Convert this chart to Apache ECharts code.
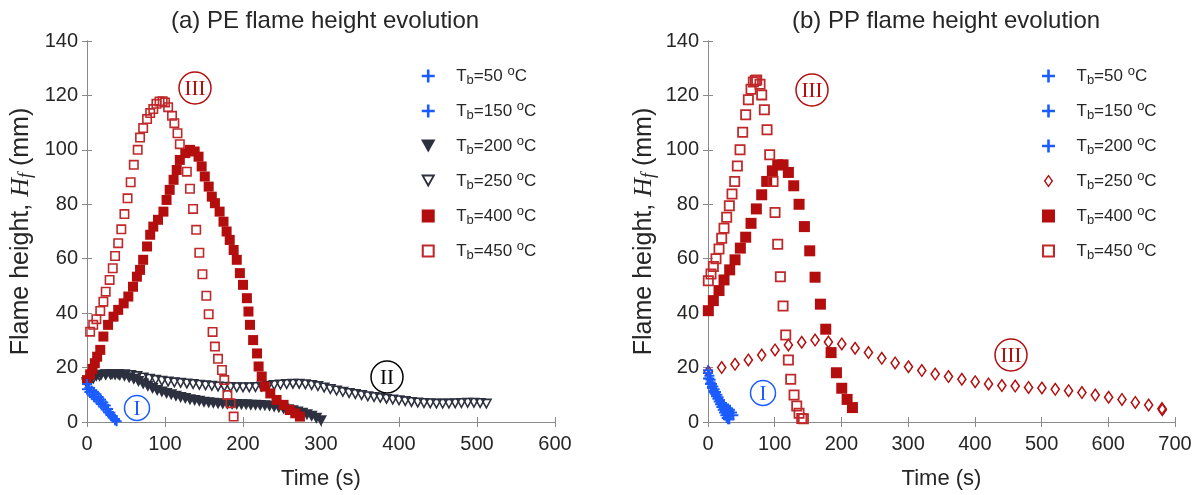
<!DOCTYPE html>
<html>
<head>
<meta charset="utf-8">
<script src="https://cdn.jsdelivr.net/npm/echarts@6/dist/echarts.min.js"></script>
<style>
  html, body { margin: 0; padding: 0; background: #fff; }
  #chart { width: 1201px; height: 495px; }
</style>
</head>
<body>
<div id="chart"></div>
<script>
// ---- data: [time (s), flame height (mm)] ----

// (a) PE
const pe50 = [[0,12],[3,11],[6,10],[9,9.2],[12,8.4],[15,7.5],[18,6.6],[21,5.6],[24,4.6],[27,3.6],[30,2.6],[33,1.6],[36,0.6]];
const pe150 = [[0,14],[3,12.6],[6,11.6],[9,11],[12,10.2],[15,9.2],[18,8.2],[21,7.2],[24,6.1],[27,4.8],[30,3.4],[33,2.2],[36,1.1],[38,0.3]];
const pe200 = [[0,14.5],[6,16],[12,16.8],[18,17.2],[24,17.4],[30,17.4],[36,17.3],[42,17.1],[48,16.8],[54,16.3],[60,15.7],[66,14.9],[72,14],[78,13.1],[84,12.3],[90,11.6],[96,11],[102,10.5],[108,10],[114,9.5],[120,9],[126,8.6],[132,8.2],[138,7.9],[144,7.6],[150,7.3],[156,7.1],[162,6.9],[168,6.7],[174,6.6],[180,6.5],[186,6.4],[192,6.4],[198,6.3],[204,6.3],[210,6.2],[216,6.2],[222,6.1],[228,6],[234,5.8],[240,5.5],[246,5.2],[252,4.8],[258,4.5],[264,4.1],[270,3.7],[276,3.2],[282,2.7],[288,2.1],[294,1.4],[300,0.5]];
const pe250 = [[0,14],[8,15.8],[16,16.8],[24,17.3],[32,17.5],[40,17.5],[48,17.4],[56,17.1],[64,16.7],[72,16.2],[80,15.7],[88,15.3],[96,15],[104,14.7],[112,14.4],[120,14.2],[128,14],[136,13.8],[144,13.5],[152,13.3],[160,13.1],[168,12.9],[176,12.8],[184,12.7],[192,12.6],[200,12.6],[208,12.6],[216,12.7],[224,12.9],[232,13.1],[240,13.4],[248,13.6],[256,13.8],[264,13.9],[272,13.9],[280,13.7],[288,13.4],[296,13],[304,12.5],[312,11.9],[320,11.4],[328,10.9],[336,10.5],[344,10.1],[352,9.7],[360,9.3],[368,9],[376,8.7],[384,8.4],[392,8.1],[400,7.8],[408,7.5],[416,7.2],[424,7],[432,6.8],[440,6.7],[448,6.6],[456,6.6],[464,6.6],[472,6.7],[480,6.8],[488,6.9],[496,6.9],[504,6.8],[512,6.6]];
const pe400 = [[0,15.4],[4,17.5],[7,19.5],[10,21.6],[13,24],[17,26.5],[21,31.4],[27,35.7],[34,38.7],[40,41.2],[47,43.6],[53,46.1],[59,49.7],[64,53.4],[68,55.9],[72,59.6],[77,64.5],[81,68.8],[85,71.8],[91,74.3],[98,77.3],[102,81.6],[106,85.3],[111,89],[115,92.6],[119,96.3],[126,98.8],[132,100],[138,99.4],[143,97.5],[147,93.9],[151,90.2],[156,86.5],[160,82.8],[164,80.4],[170,77.3],[175,73.6],[179,70],[183,66.9],[188,63.2],[192,59.6],[196,54.7],[200,50.4],[205,45.5],[207,40.6],[209,35.7],[213,30.1],[218,25.2],[220,20.4],[224,16.7],[228,13],[235,10.5],[243,8.1],[252,6.3],[260,4.4],[267,3.2],[273,2]];
const pe450 = [[4,33.2],[8,35.7],[12,37.8],[17,40.8],[21,44.2],[24,47.9],[29,52.2],[33,56.5],[36,61],[40,65.7],[44,70.8],[48,76.4],[52,82.2],[56,88.1],[60,94.5],[65,100],[68,104.5],[72,108],[77,111.3],[81,113.5],[85,115],[89,116.9],[93,117.8],[97,117.9],[100,117.4],[104,115.7],[109,112.5],[112,109.8],[116,106.1],[119,102.1],[128,92],[132,85.7],[136,78.3],[140,70.6],[144,62.2],[148,54.3],[153,46.4],[156,39.6],[161,33.1],[164,27.7],[168,23.2],[173,19.1],[176,15.4],[180,9.9],[184,6.9],[188,2]];

// (b) PP
const pp50 = [[0,18],[2,16],[4,14.5],[6,13],[8,11.5],[10,10.5],[12,9.5],[14,8.5],[16,7.5],[18,6.5],[20,5.5],[22,4.5],[24,3.5],[26,2.5],[28,1.5],[30,1]];
const pp150 = [[0,19],[2,17],[4,15.5],[6,14],[8,13],[10,12],[12,11],[14,10],[16,9],[18,8],[20,7],[22,6],[24,5],[26,4],[28,3],[30,2],[32,1]];
const pp200 = [[0,16],[3,14],[6,12.5],[9,11],[12,10],[15,9],[18,8],[21,7],[24,6],[27,5.5],[30,5],[33,4.5],[36,3.5],[38,2.5]];
const pp250 = [[0.5,18.5],[20.5,20],[40.5,21.2],[60.5,22.8],[80.5,24.6],[100.5,26.5],[120.5,28.3],[140.5,29.3],[160.5,30.1],[180.5,29.4],[200.5,28.7],[220.5,27.1],[240.5,25.5],[260.5,23.4],[280.5,21.7],[300.5,20.3],[320.5,18.9],[340.5,17.6],[360.5,16.7],[380.5,15.7],[400.5,14.8],[420.5,14],[440.5,13.4],[460.5,13.2],[480.5,12.7],[500.5,12.5],[520.5,12],[540.5,11.5],[560.5,10.8],[580.5,9.9],[600.5,9.1],[620.5,8.3],[640.5,7.2],[660.5,6.25],[680.5,5],[681,4.5]];
const pp400 = [[0.5,40.9],[8,44.6],[16.5,48.3],[24,52.2],[32.5,55.9],[40.5,59.6],[48.5,63.9],[56.5,67.9],[64.5,73],[72.5,78.3],[80.5,83.5],[88,88.4],[96.5,92.3],[104.5,94.5],[112.5,94.5],[120.5,91.7],[128.5,86.8],[136.5,80],[144.5,71.8],[152.5,62.9],[160.5,53.2],[168.5,43.3],[176.5,34.1],[184.5,25.5],[192.5,18.1],[200.5,12.4],[208.5,8.3],[216.5,5.3]];
const pp450 = [[0.5,51.9],[4.5,54.4],[8,57.1],[12,60],[16.5,63.6],[20.5,67.5],[24,71.2],[28,75.2],[32,79.5],[36,83.8],[40,88.4],[44,94.1],[48,100],[52,106.5],[56.5,112.9],[60.5,118.4],[64.5,122.3],[68,124.9],[71,125.5],[73,125.7],[78,124.1],[80.5,120.2],[84.5,114.7],[88.5,107.4],[92.5,98.2],[97.5,88.4],[100.5,77],[104.5,65.3],[108.5,53.4],[112.5,42.6],[116.5,32],[120.5,22.8],[124,15.7],[129,9.9],[133,5.9],[136.5,3.2],[140.5,1.3],[143,1.2]];

const xTicksA = { min: 0, max: 600, interval: 100 };
const xTicksB = { min: 0, max: 700, interval: 100 };
const yTicks = { min: 0, max: 140, interval: 20 };

const legendTemps = ['50', '150', '200', '250', '400', '450'];

// ---- styling ----
const FONT = '"Liberation Sans", Arial, sans-serif';
const SERIF = '"Liberation Serif", "Times New Roman", serif';
const BLUE = '#1a5cff';
const DARK = '#2c303f';
const RED = '#b30d0d';
const RED_OPEN = '#c0282a';
const AXIS_GRAY = '#8a8a8a';
const TXT = '#262626';

const SYM = {
  plus: 'path://M4,0H6V4H10V6H6V10H4V6H0V4H4Z',
  triDown: 'path://M0,0H10L5,9Z',
  triDownOpen: 'path://M0,0H10L5,9Z M2.2,1.3L5,6.3L7.8,1.3Z',
  square: 'path://M0,0H10V10H0Z',
  squareOpen: 'path://M0,0H10V10H0Z M1.6,1.6V8.4H8.4V1.6Z',
  diamondOpen: 'path://M5,0L10,7L5,14L0,7Z M5,2.4L1.9,7L5,11.6L8.1,7Z'
};

function scatter(name, data, idx, symbol, size, color, z) {
  return {
    name,
    type: 'scatter',
    xAxisIndex: idx,
    yAxisIndex: idx,
    data,
    symbol,
    symbolSize: size,
    itemStyle: { color, opacity: 1 },
    z,
    emphasis: { disabled: true }
  };
}

const series = [
  scatter('a50', pe50, 0, SYM.plus, 10, BLUE, 5),
  scatter('a150', pe150, 0, SYM.plus, 10, BLUE, 5),
  scatter('a200', pe200, 0, SYM.triDown, [12, 11], DARK, 2),
  scatter('a250', pe250, 0, SYM.triDownOpen, [12, 11], DARK, 2),
  scatter('a400', pe400, 0, SYM.square, 10, RED, 3),
  scatter('a450', pe450, 0, SYM.squareOpen, 10, RED_OPEN, 3),
  scatter('b50', pp50, 1, SYM.plus, 10, BLUE, 5),
  scatter('b150', pp150, 1, SYM.plus, 10, BLUE, 5),
  scatter('b200', pp200, 1, SYM.plus, 10, BLUE, 5),
  scatter('b250', pp250, 1, SYM.diamondOpen, [10, 14], RED, 3),
  scatter('b400', pp400, 1, SYM.square, 11, RED, 3),
  scatter('b450', pp450, 1, SYM.squareOpen, 11, RED_OPEN, 3)
];

const legendText = {};
['a', 'b'].forEach((p) => {
  legendTemps.forEach((k) => {
    legendText[p + k] = 'T{sub|b}=' + k + ' {sup|o}C';
  });
});

function legend(prefix, left) {
  return {
    orient: 'vertical',
    left,
    top: 60,
    data: legendTemps.map((k) => prefix + k),
    itemWidth: 46,
    itemHeight: 13,
    itemGap: 13,
    selectedMode: false,
    formatter: (n) => legendText[n],
    textStyle: {
      fontFamily: FONT,
      fontSize: 17,
      color: TXT,
      lineHeight: 22,
      rich: {
        sub: { fontFamily: FONT, fontSize: 13, color: TXT, lineHeight: 11, verticalAlign: 'bottom' },
        sup: { fontFamily: FONT, fontSize: 13, color: TXT, lineHeight: 12, verticalAlign: 'top' }
      }
    }
  };
}

function xAxisBottom(grid, ticks) {
  return {
    type: 'value', gridIndex: grid, position: 'bottom',
    min: ticks.min, max: ticks.max, interval: ticks.interval,
    name: 'Time (s)', nameLocation: 'middle', nameGap: 46,
    nameTextStyle: { fontFamily: FONT, fontSize: 22, color: TXT },
    axisLine: { show: true, lineStyle: { color: AXIS_GRAY, width: 1 } },
    axisTick: { inside: true, length: 5, lineStyle: { color: AXIS_GRAY } },
    axisLabel: { fontFamily: FONT, fontSize: 20, color: TXT, margin: 12 },
    splitLine: { show: false }
  };
}
function xAxisTop(grid, ticks) {
  return {
    type: 'value', gridIndex: grid, position: 'top',
    min: ticks.min, max: ticks.max, interval: ticks.interval,
    axisLine: { show: true, lineStyle: { color: AXIS_GRAY, width: 1 } },
    axisTick: { inside: true, length: 5, lineStyle: { color: AXIS_GRAY } },
    axisLabel: { show: false },
    splitLine: { show: false }
  };
}
function yAxisLeft(grid, gap) {
  return {
    type: 'value', gridIndex: grid, position: 'left',
    min: yTicks.min, max: yTicks.max, interval: yTicks.interval,
    name: 'Flame height, {i|H}{isub|f} (mm)', nameLocation: 'middle', nameGap: gap, nameRotate: 90,
    nameTextStyle: {
      fontFamily: FONT, fontSize: 25, color: TXT, lineHeight: 28,
      rich: {
        i: { fontFamily: SERIF, fontStyle: 'italic', fontSize: 26, color: TXT, lineHeight: 28 },
        isub: { fontFamily: SERIF, fontStyle: 'italic', fontSize: 18, color: TXT, lineHeight: 16, verticalAlign: 'bottom' }
      }
    },
    axisLine: { show: true, lineStyle: { color: AXIS_GRAY, width: 1 } },
    axisTick: { inside: true, length: 5, lineStyle: { color: AXIS_GRAY } },
    axisLabel: { fontFamily: FONT, fontSize: 20, color: TXT, margin: 9 },
    splitLine: { show: false }
  };
}
function yAxisRight(grid) {
  return {
    type: 'value', gridIndex: grid, position: 'right',
    min: yTicks.min, max: yTicks.max, interval: yTicks.interval,
    axisLine: { show: true, lineStyle: { color: AXIS_GRAY, width: 1 } },
    axisTick: { inside: true, length: 5, lineStyle: { color: AXIS_GRAY } },
    axisLabel: { show: false },
    splitLine: { show: false }
  };
}

// circled roman numerals
function numeral(text, cx, cy, r, color) {
  return [
    { type: 'circle', shape: { cx, cy, r }, style: { fill: 'none', stroke: color, lineWidth: 1.5 }, z: 10 },
    { type: 'text', x: cx, y: cy + 1, style: { text, fill: color, font: '21px ' + SERIF, align: 'center', verticalAlign: 'middle' }, z: 10 }
  ];
}

const option = {
  animation: false,
  backgroundColor: '#fff',
  title: [
    { text: '(a) PE flame height evolution', left: 320, top: 4, textAlign: 'center',
      textStyle: { fontFamily: FONT, fontSize: 24, fontWeight: 'normal', color: TXT } },
    { text: '(b) PP flame height evolution', left: 941, top: 4, textAlign: 'center',
      textStyle: { fontFamily: FONT, fontSize: 24, fontWeight: 'normal', color: TXT } }
  ],
  grid: [
    { left: 87, right: 646, top: 41, bottom: 73 },
    { left: 708, right: 26, top: 41, bottom: 73 }
  ],
  xAxis: [xAxisBottom(0, xTicksA), xAxisBottom(1, xTicksB), xAxisTop(0, xTicksA), xAxisTop(1, xTicksB)],
  yAxis: [yAxisLeft(0, 52), yAxisLeft(1, 50), yAxisRight(0), yAxisRight(1)],
  legend: [legend('a', 416), legend('b', 1037)],
  series,
  graphic: {
    elements: [].concat(
      numeral('III', 195, 88, 16, RED),
      numeral('I', 137, 408, 12.5, BLUE),
      numeral('II', 387, 377, 16, '#000'),
      numeral('III', 812, 90, 16, RED),
      numeral('I', 763, 393, 12.5, BLUE),
      numeral('III', 1011, 355, 16, RED)
    )
  }
};

const chart = echarts.init(document.getElementById('chart'));
chart.setOption(option);
</script>
</body>
</html>
